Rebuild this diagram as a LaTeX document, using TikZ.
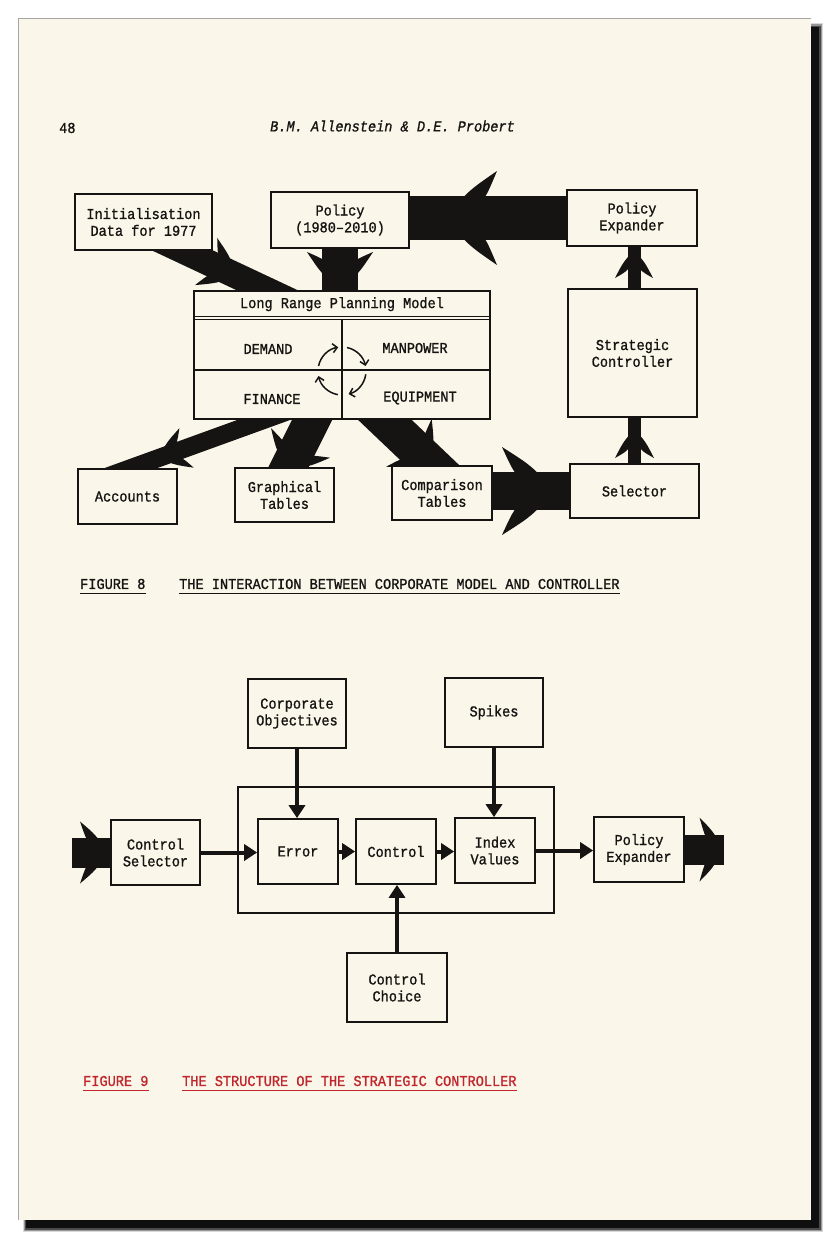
\documentclass[tikz,border=0pt]{standalone}
\usepackage{fontspec}
\usetikzlibrary{arrows.meta,decorations.markings,calc}
\newfontfamily\tw{Liberation Mono}[FakeBold=1.1, FakeStretch=0.9]
\definecolor{paper}{RGB}{250,247,234}
\definecolor{ink}{RGB}{22,20,18}
\definecolor{redink}{RGB}{192,38,44}
\pgfdeclarelayer{page}
\pgfdeclarelayer{bg}
\pgfsetlayers{page,bg,main}
\newcommand\tf{\tw\fontsize{15.1}{16.8}\selectfont}
\tikzset{
  box/.style={draw=ink, line width=1.7, fill=paper, inner sep=0, align=center, font=\tf, text=ink},
  lbl/.style={font=\tf, text=ink, inner sep=0},
  fat/.style n args={4}{draw=ink, line width=#1, line cap=butt, postaction={decorate},
    decoration={markings, mark=at position #2 with {\fill[ink] (0,0) .. controls (-0.45*#3,0.58*#4) .. (-#3,#4) .. controls (-0.78*#3,0.42*#4) .. (-0.45*#3,0) .. controls (-0.78*#3,-0.42*#4) .. (-#3,-#4) .. controls (-0.45*#3,-0.58*#4) .. (0,0) -- cycle;}}},
  farrow/.style={draw=ink, line width=4, -{Triangle[length=13pt,width=16pt]}},
  cyc/.style={draw=ink, line width=1.5, -{Straight Barb[length=4.5pt,width=9pt]}}
}
\begin{document}
\begin{tikzpicture}[x=1pt,y=-1pt]
\useasboundingbox (0,0) rectangle (829,1238);
\begin{pgfonlayer}{page}
  \fill[white] (0,0) rectangle (829,1238);
  \fill[black,opacity=0.15] (23,23) rectangle (823,1232);
  \fill[black,opacity=0.3] (24,24) rectangle (822,1231);
  \fill[black,opacity=0.5] (25,26) rectangle (821,1230);
  \fill[black,opacity=0.8] (26,27) rectangle (819,1228);
  \fill[paper] (18,18) rectangle (811,1220);
  \draw[gray!70, line width=0.7] (18,1220) -- (18,18) -- (811,18);
\end{pgfonlayer}

% header
\node[lbl, anchor=west] (pg) at (59,128) {48};
\node[lbl, font=\tf\itshape] (hdr) at (392.5,126) {B.M. Allenstein \& D.E. Probert};

% ---------- Figure 8 ----------
\node[box, minimum width=137, minimum height=56] (init) at (143.5,222) {Initialisation\\Data for 1977};
\node[box, minimum width=138, minimum height=56] (policy) at (340,220) {Policy\\(1980–2010)};
\node[box, minimum width=130, minimum height=56] (pexp) at (632,218) {Policy\\Expander};
\node[box, minimum width=296, minimum height=128] (lrpm) at (342,355) {};
\node[box, minimum width=129, minimum height=128] (strat) at (632.5,353) {Strategic\\Controller};
\node[box, minimum width=99, minimum height=55] (acc) at (127.5,496.5) {Accounts};
\node[box, minimum width=99, minimum height=54] (graph) at (284.5,495) {Graphical\\Tables};
\node[box, minimum width=100, minimum height=54] (comp) at (442,493) {Comparison\\Tables};
\node[box, minimum width=129, minimum height=54] (sel) at (634.5,491) {Selector};

% LRPM interior
\draw[ink, line width=1.3] ($(lrpm.north west)+(0,26)$) -- ($(lrpm.north east)+(0,26)$);
\draw[ink, line width=1.3] ($(lrpm.north west)+(0,29.5)$) -- ($(lrpm.north east)+(0,29.5)$);
\draw[ink, line width=1.5] ($(lrpm.north)+(0,29.5)$) -- (lrpm.south);
\draw[ink, line width=1.5] ($(lrpm.west)+(0,15)$) -- ($(lrpm.east)+(0,15)$);
\node[lbl] (ttl) at ($(lrpm.north)+(0,14)$) {Long Range Planning Model};
\node[lbl] (dem) at ($(lrpm.center)+(-74,-6)$) {DEMAND};
\node[lbl] (man) at ($(lrpm.center)+(73,-7)$) {MANPOWER};
\node[lbl] (fin) at ($(lrpm.center)+(-70,44)$) {FINANCE};
\node[lbl] (equ) at ($(lrpm.center)+(78,43)$) {EQUIPMENT};
\coordinate (cy) at ($(lrpm.center)+(0,16)$);
\foreach \a/\b in {192/261, 282/348, 8/74, 100/168}
  \draw[cyc] ($(cy)+(\a:24)$) arc[start angle=\a, end angle=\b, radius=24];

\begin{pgfonlayer}{bg}
  \path[fat={44}{187pt}{52}{47}] (pexp.center) -- (policy.center |- pexp.center);
  \path[fat={26}{127pt}{34}{26}] ($(init.center)+(-21.5,0)$) -- ($(lrpm.center)+(63,0)$);
  \path[fat={36}{70pt}{38}{33}] (policy.center) -- (policy.center |- lrpm.center);
  \path[fat={18}{156pt}{30}{21}] ($(lrpm.center)+(-37,50)$) -- ($(acc.center)+(-29.5,-16.5)$);
  \path[fat={36}{78pt}{30}{33}] ($(lrpm.center)+(-20,45)$) -- ($(graph.center)+(-7.5,-5)$);
  \path[fat={37}{92pt}{30}{33}] ($(lrpm.center)+(22,45)$) -- ($(comp.center)+(16.5,-3)$);
  \path[fat={38}{113pt}{53}{44}] (sel.center -| comp.center) -- (sel.center);
  \path[fat={13}{103pt}{28}{19}] ($(strat.center)+(1.5,0)$) -- ($(strat.center |- pexp.center)+(1.5,0)$);
  \path[fat={13}{62pt}{29}{19.5}] (sel.center) -- (sel.center |- strat.center);
\end{pgfonlayer}

% caption 8
\node[lbl, anchor=west] (f8a) at (80,584) {FIGURE 8};
\node[lbl, anchor=west] (f8b) at (179,584) {THE INTERACTION BETWEEN CORPORATE MODEL AND CONTROLLER};
\draw[ink, line width=1] ([yshift=-5pt]f8a.base west) -- ([yshift=-5pt]f8a.base east);
\draw[ink, line width=1] ([yshift=-5pt]f8b.base west) -- ([yshift=-5pt]f8b.base east);

% ---------- Figure 9 ----------
\node[draw=ink, line width=1.7, minimum width=316, minimum height=126, inner sep=0] (cont) at (396,850) {};
\node[box, minimum width=98, minimum height=69] (corp) at (297,713.5) {Corporate\\Objectives};
\node[box, minimum width=98, minimum height=69] (spk) at (494,712.5) {Spikes};
\node[box, minimum width=89, minimum height=65] (csel) at (155.5,852.5) {Control\\Selector};
\node[box, minimum width=80, minimum height=65] (err) at (298,851.5) {Error};
\node[box, minimum width=80, minimum height=65] (ctrl) at (396,851.5) {Control};
\node[box, minimum width=80, minimum height=65] (idx) at (495,850.5) {Index\\Values};
\node[box, minimum width=90, minimum height=65] (pexp2) at (639,849.5) {Policy\\Expander};
\node[box, minimum width=100, minimum height=69] (choice) at (397,987.5) {Control\\Choice};

\draw[farrow] (corp.south) -- (corp.south |- err.north);
\draw[farrow] (spk.south) -- (spk.south |- idx.north);
\draw[farrow] (csel.east) -- (csel.east -| err.west);
\draw[farrow] (err.east) -- (err.east -| ctrl.west);
\draw[farrow] (ctrl.east) -- (ctrl.east -| idx.west);
\draw[farrow] (idx.east) -- (idx.east -| pexp2.west);
\draw[farrow] (choice.north) -- (choice.north |- ctrl.south);

\coordinate (fin9) at (72,852.5);
\coordinate (fout9) at (724,849.5);
\begin{pgfonlayer}{bg}
  \path[fat={30}{36pt}{28}{31}] (fin9) -- (csel.center);
  \path[fat={30}{84.5pt}{24}{32}] (pexp2.center) -- (fout9);
\end{pgfonlayer}

% caption 9
\node[lbl, text=redink, anchor=west] (f9a) at (83,1081) {FIGURE 9};
\node[lbl, text=redink, anchor=west] (f9b) at (182,1081) {THE STRUCTURE OF THE STRATEGIC CONTROLLER};
\draw[redink, line width=1] ([yshift=-5pt]f9a.base west) -- ([yshift=-5pt]f9a.base east);
\draw[redink, line width=1] ([yshift=-5pt]f9b.base west) -- ([yshift=-5pt]f9b.base east);
\end{tikzpicture}
\end{document}
